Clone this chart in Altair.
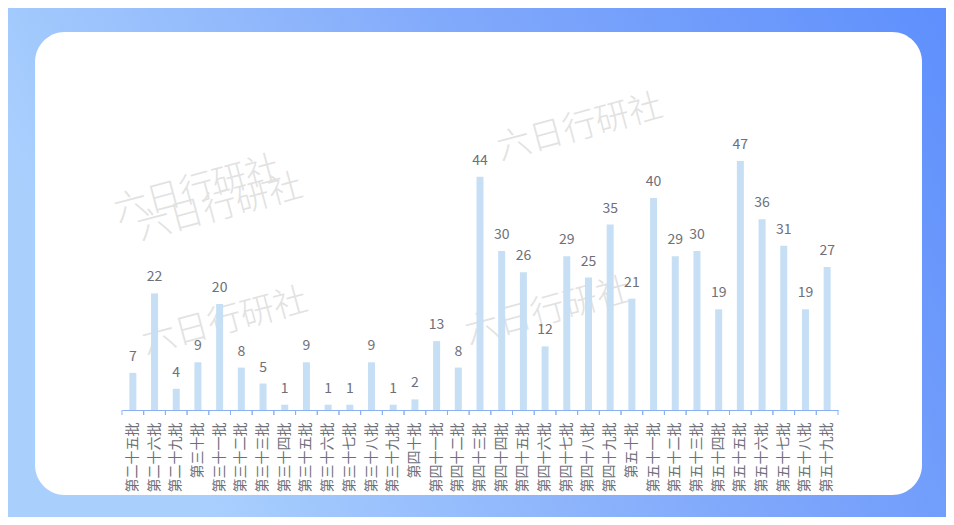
import altair as alt
import pandas as pd

batches = ["第二十五批", "第二十六批", "第二十九批", "第三十批", "第三十一批", "第三十二批",
           "第三十三批", "第三十四批", "第三十五批", "第三十六批", "第三十七批", "第三十八批",
           "第三十九批", "第四十批", "第四十一批", "第四十二批", "第四十三批", "第四十四批",
           "第四十五批", "第四十六批", "第四十七批", "第四十八批", "第四十九批", "第五十批",
           "第五十一批", "第五十二批", "第五十三批", "第五十四批", "第五十五批", "第五十六批",
           "第五十七批", "第五十八批", "第五十九批"]
counts = [7, 22, 4, 9, 20, 8, 5, 1, 9, 1, 1, 9, 1, 2, 13, 8, 44, 30, 26, 12, 29, 25, 35, 21,
          40, 29, 30, 19, 47, 36, 31, 19, 27]
watermark_text = "六日行研社"

df = pd.DataFrame({"batch": batches, "count": counts})
one = pd.DataFrame({"k": [0]})

FONT = "Noto Sans CJK SC"
W, H = 716, 265
AXIS_COLOR = "#8cb1f2"

xenc = alt.X("batch:N", sort=batches, title=None,
             scale=alt.Scale(paddingInner=0, paddingOuter=0),
             axis=alt.Axis(labelAngle=-90, labelFontSize=14, labelColor="#6e7079",
                           labelFont=FONT, labelPadding=12, ticks=False,
                           domainColor=AXIS_COLOR, domainWidth=1, zindex=1,
                           labelOverlap=False, labelLimit=200))
yenc = alt.Y("count:Q", scale=alt.Scale(domain=[0, 50]), axis=None)

bg = alt.Chart(one).mark_rect(
    color=alt.LinearGradient(gradient="linear",
                             stops=[alt.GradientStop(color="#a9d0fd", offset=0),
                                    alt.GradientStop(color="#82aafb", offset=0.5),
                                    alt.GradientStop(color="#5e8ffc", offset=1)],
                             x1=0, x2=1, y1=0.3, y2=0)
).encode(x=alt.value(-114), x2=alt.value(824), y=alt.value(-137), y2=alt.value(372))

panel = alt.Chart(one).mark_rect(color="white", cornerRadius=30).encode(
    x=alt.value(-87), x2=alt.value(800), y=alt.value(-113), y2=alt.value(350))

wm_pos = [(75, 45), (98, 63), (103, 177), (458, -17), (426, 167)]
wms = [
    alt.Chart(one).mark_text(text=watermark_text, fontSize=34, font=FONT, angle=345,
                             color="#e2e2e2", align="center", baseline="middle",
                             fontWeight=300).encode(
        x=alt.value(px), y=alt.value(py))
    for px, py in wm_pos
]

bars = alt.Chart(df).mark_bar(color="#c6dff5", size=7).encode(x=xenc, y=yenc)

labels = alt.Chart(df).mark_text(dy=-9, baseline="bottom", fontSize=14, font=FONT,
                                 color="#6e7079").encode(x=xenc, y=yenc, text="count:Q")

ticks0 = alt.Chart(df).mark_rule(color=AXIS_COLOR).encode(
    x=alt.X("batch:N", sort=batches, bandPosition=0),
    y=alt.value(H), y2=alt.value(H + 5))
ticks1 = alt.Chart(df).mark_rule(color=AXIS_COLOR).encode(
    x=alt.X("batch:N", sort=batches, bandPosition=1),
    y=alt.value(H), y2=alt.value(H + 5))

chart = alt.layer(bg, panel, *wms, bars, labels, ticks0, ticks1).properties(
    width=W, height=H,
    autosize=alt.AutoSizeParams(type="none"),
    padding={"left": 114, "top": 137, "right": 108, "bottom": 107},
).configure_view(stroke=None)

chart.save("out.html", embed_options={"renderer": "svg", "actions": False})
